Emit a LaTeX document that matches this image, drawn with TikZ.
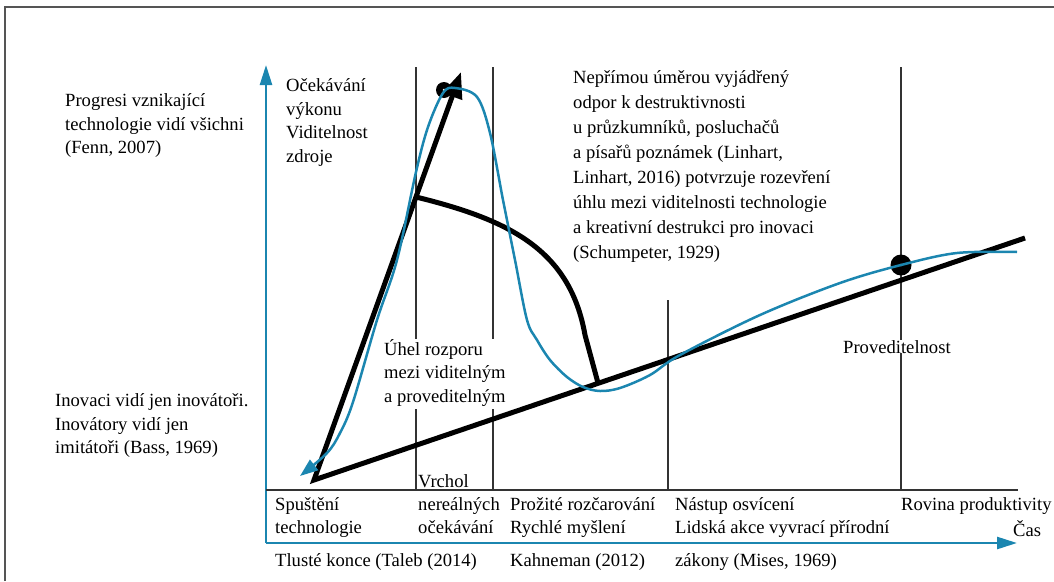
\documentclass[tikz,border=0pt]{standalone}
\usepackage{fontspec}
\setmainfont{Liberation Serif}
\usetikzlibrary{arrows.meta}
\definecolor{axisblue}{HTML}{1B86B0}
\definecolor{rulegray}{HTML}{333333}
\definecolor{framegray}{HTML}{555555}
% left-aligned stack of lines whose baseline is the first line
\newcommand\lns[1]{\begin{tabular}[t]{@{}l@{}}#1\end{tabular}}
\begin{document}
\begin{tikzpicture}[x=1pt,y=-1pt,
  lbl/.style={anchor=base west, inner sep=0pt, font=\fontsize{18.6}{23.5}\selectfont},
  widelbl/.style={lbl, font=\fontsize{18.6}{25}\selectfont},
  framebox/.style={draw=framegray, line width=2pt},
  phase/.style={draw=rulegray, line width=1.2pt},
  axis/.style={draw=axisblue, line width=2.5pt, -{Triangle[length=20pt,width=12pt]}},
  trend/.style={draw=black, line width=5pt},
  hype/.style={draw=axisblue, line width=2.5pt}]
\useasboundingbox (0,0) rectangle (1054,581);

% outer frame (top and left edges)
\coordinate (fbl) at (5,581);
\coordinate (ftl) at (5,7);
\coordinate (ftr) at (1054,7);
\draw[framebox] (fbl) -- (ftl) -- (ftr);

% axes
\coordinate (origin) at (266,543);
\coordinate (ytip) at (266,65);
\coordinate (xtip) at (1017,543);
\draw[axis] (origin) -- (ytip);
\draw[axis] (origin) -- (xtip);

% phase baseline and phase separators
\coordinate (bl) at (266,490);
\coordinate (br) at (1018,490);
\draw[phase] (bl) -- (br);
\foreach \px/\py in {416/67, 493/67, 668/300, 901/67}
  \draw[phase] (\px,\py) -- (\px,490);

% labels
\node[lbl] (prog) at (65,106.5) {\lns{Progresi vznikající\\technologie vidí všichni\\(Fenn, 2007)}};
\node[lbl] (ocek) at (286,91.5) {\lns{Očekávání\\výkonu\\Viditelnost\\zdroje}};
\node[widelbl] (nepr) at (573,83) {\lns{Nepřímou úměrou vyjádřený\\odpor k destruktivnosti\\u průzkumníků, posluchačů\\a písařů poznámek (Linhart,\\Linhart, 2016) potvrzuje rozevření\\úhlu mezi viditelnosti technologie\\a kreativní destrukci pro inovaci\\(Schumpeter, 1929)}};
\node[lbl, fill=white] (uhel) at (384,355) {\lns{Úhel rozporu\\mezi viditelným\\a proveditelným}};
\node[lbl] (inov) at (55,406.5) {\lns{Inovaci vidí jen inovátoři.\\Inovátory vidí jen\\imitátoři (Bass, 1969)}};
\node[lbl, fill=white] (prov) at (843,353) {Proveditelnost};
\node[lbl] (vrch) at (418,487) {Vrchol};
\node[lbl] (spus) at (275,510) {\lns{Spuštění\\technologie}};
\node[lbl] (nere) at (418,510) {\lns{nereálných\\očekávání}};
\node[lbl] (proz) at (510,510) {\lns{Prožité rozčarování\\Rychlé myšlení}};
\node[lbl] (nast) at (675,510) {\lns{Nástup osvícení\\Lidská akce vyvrací přírodní}};
\node[lbl] (rov) at (901,510) {Rovina produktivity};
\node[lbl] (cas) at (1013,536.5) {Čas};
\node[lbl] (tlus) at (275,566.5) {Tlusté konce (Taleb (2014)};
\node[lbl] (kahn) at (510,566.5) {Kahneman (2012)};
\node[lbl] (zak) at (675,566.5) {zákony (Mises, 1969)};

% visibility and feasibility lines
\coordinate (vtip) at (461,72);
\coordinate (vbase) at (314,480);
\coordinate (fend) at (1025,238);
\draw[trend, line join=miter, {Triangle[length=26pt,width=20pt]}-] (vtip) -- (vbase) -- (fend);

% perceived curve falling back onto the feasibility line
\coordinate (cstart) at (416,197);
\coordinate (cknee) at (585,335);
\coordinate (cend) at (598,383);
\draw[trend, line join=round] (cstart) .. controls (510,220) and (570,250) .. (cknee) -- (cend);

% markers
\fill (444,90) circle (8pt);
\fill[white] (444,90) circle (1.3pt);
\fill (901,265) circle (10.5pt);
\fill[white] (901,265) circle (1.3pt);

% hype cycle curve
\draw[hype, -{Triangle[length=18pt,width=13pt]}] plot[smooth, tension=0.55] coordinates {
  (1017,252) (957,253) (901,265) (840,283) (760,315) (680,355) (650,375)
  (620,388) (600,391) (583,387) (567,377) (550,360) (537,340) (527,320)
  (515,260) (503,200) (490,133) (477,97) (455,88) (443,93) (428,127)
  (416,172) (397,260) (377,320) (353,402) (340,433) (327,453) (300,476)};
\end{tikzpicture}
\end{document}
